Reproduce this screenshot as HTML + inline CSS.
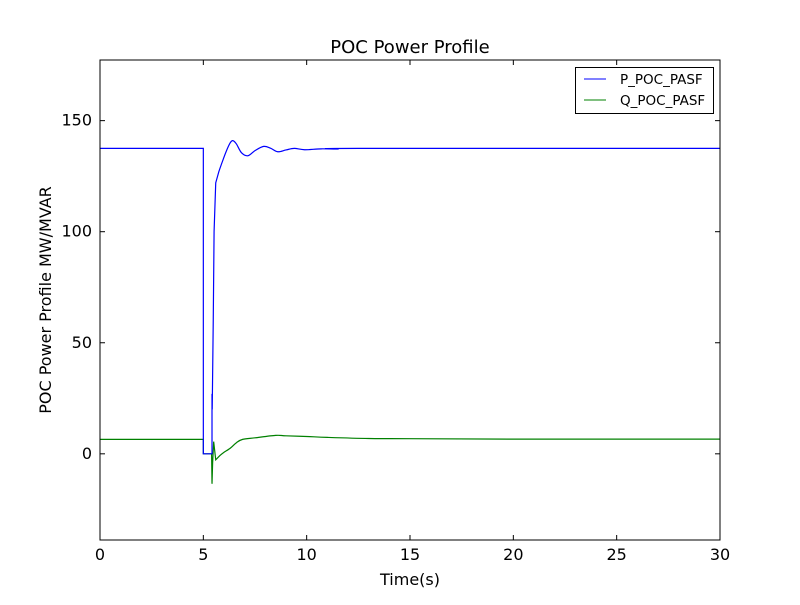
<!DOCTYPE html>
<html><head><meta charset="utf-8"><style>
body{margin:0;background:#fff}
svg text{font-family:"DejaVu Sans","Liberation Sans",sans-serif}
</style></head><body>
<svg id="chart" width="800" height="600">
<rect x="0" y="0" width="800" height="600" fill="#fff"/>
<text x="410" y="53" font-size="18" text-anchor="middle">POC Power Profile</text>
<g id="plot"></g>
<g id="axes"></g>
<text x="410" y="585" font-size="16" text-anchor="middle">Time(s)</text>
<text transform="translate(51,300) rotate(-90)" font-size="16" text-anchor="middle">POC Power Profile MW/MVAR</text>
<g>
<rect x="575.5" y="67.5" width="138" height="46" fill="#fff" stroke="#000" stroke-width="1"/>
<line x1="584" y1="79" x2="606" y2="79" stroke="#0000ff" stroke-width="1"/>
<text x="620" y="84" font-size="13.5">P_POC_PASF</text>
<line x1="584" y1="100" x2="606" y2="100" stroke="#008000" stroke-width="1"/>
<text x="620" y="105" font-size="13.5">Q_POC_PASF</text>
</g>
</svg>
<script>
const pTime = [0,5.0,5.0,5.4,5.42,5.42,5.43,5.48,5.52,5.6,5.75,5.9,6.1,6.3,6.43,6.6,6.85,7.16,7.5,7.92,8.25,8.6,9.0,9.4,9.9,10.7,11.5,12.5,30];
const pValues = [137.5,137.5,0,0,0,27,20,60,100,122,127,131,136,140,141,139.5,135.5,134.2,136.5,138.4,137.6,136,136.8,137.5,136.9,137.3,137.2,137.5,137.5];
const qTime = [0,5.0,5.0,5.4,5.42,5.45,5.5,5.6,5.8,5.97,6.3,6.6,6.9,7.5,8.5,9.0,10,11,13,15,20,30];
const qValues = [6.5,6.5,0,0,-13.5,-4,5.5,-2.7,-0.8,0.5,2.5,5,6.5,7.2,8.3,8.1,7.8,7.4,6.9,6.8,6.6,6.6];
const xTicks = [0,5,10,15,20,25,30];
const yTicks = [0,50,100,150];
const X0=100,X1=720,Y0=60,Y1=540, xmin=0,xmax=30, ymin=-38.8,ymax=177.3;
const xs = v => X0 + (v - xmin) / (xmax - xmin) * (X1 - X0);
const ys = v => Y1 - (v - ymin) / (ymax - ymin) * (Y1 - Y0);
const NS="http://www.w3.org/2000/svg";
const plot=document.getElementById('plot'), axes=document.getElementById('axes');
function mk(tag,attrs,parent){const e=document.createElementNS(NS,tag);for(const k in attrs)e.setAttribute(k,attrs[k]);parent.appendChild(e);return e;}
function series(t,v,color,name,smoothFrom){
  const pts=t.map((tt,i)=>[xs(tt),ys(v[i])]);
  let d='M'+pts[0][0].toFixed(2)+','+pts[0][1].toFixed(2);
  for(let i=1;i<pts.length;i++){
    if(t[i-1]>=smoothFrom && i<pts.length-1 && i>1){
      const p0=pts[i-2],p1=pts[i-1],p2=pts[i],p3=pts[Math.min(i+1,pts.length-1)];
      const c1=[p1[0]+(p2[0]-p0[0])/6,p1[1]+(p2[1]-p0[1])/6];
      const c2=[p2[0]-(p3[0]-p1[0])/6,p2[1]-(p3[1]-p1[1])/6];
      d+='C'+c1.map(n=>n.toFixed(2)).join(',')+' '+c2.map(n=>n.toFixed(2)).join(',')+' '+p2.map(n=>n.toFixed(2)).join(',');
    } else d+='L'+pts[i][0].toFixed(2)+','+pts[i][1].toFixed(2);
  }
  const p=mk('path',{d:d,fill:'none',stroke:color,'stroke-width':1.2},plot);
  
  
}
series(qTime,qValues,'#008000','q-series-line',5.8);
series(pTime,pValues,'#0000ff','p-series-line',5.75);
const frame=mk('rect',{x:X0,y:Y0,width:X1-X0,height:Y1-Y0,fill:'none',stroke:'#000','stroke-width':1},axes);


xTicks.forEach(v=>{
  const x=xs(v);
  mk('line',{x1:x,y1:Y1,x2:x,y2:Y1-5,stroke:'#000'},axes);
  mk('line',{x1:x,y1:Y0,x2:x,y2:Y0+5,stroke:'#000'},axes);
  const t=mk('text',{x:x,y:Y1+20,'font-size':16,'text-anchor':'middle'},axes);
  t.textContent=v;
  
  
});
yTicks.forEach(v=>{
  const y=ys(v);
  mk('line',{x1:X0,y1:y,x2:X0+5,y2:y,stroke:'#000'},axes);
  mk('line',{x1:X1,y1:y,x2:X1-5,y2:y,stroke:'#000'},axes);
  const t=mk('text',{x:X0-8,y:y+5,'font-size':16,'text-anchor':'end'},axes);
  t.textContent=v;
  
  
});
</script>
</body></html>
